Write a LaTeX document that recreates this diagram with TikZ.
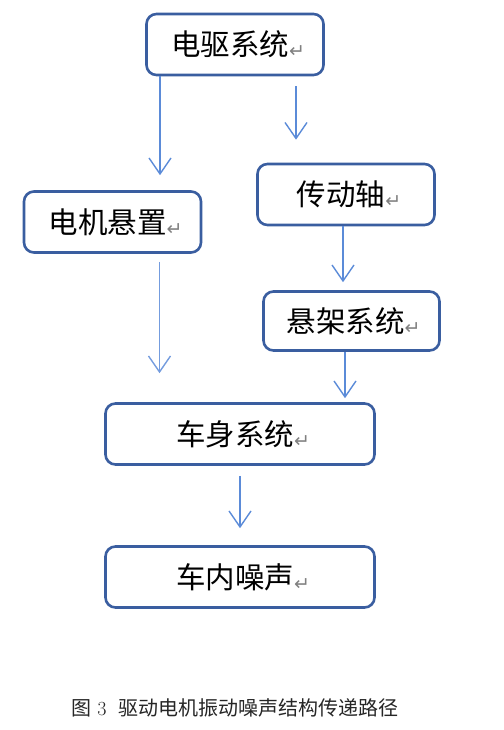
\documentclass[tikz,border=0pt]{standalone}
\usepackage{fontspec}
\usetikzlibrary{arrows.meta}
\newfontfamily\cjk{Noto Sans CJK SC}
\newfontfamily\symfont{DejaVu Sans}
\definecolor{boxblue}{HTML}{3A5EA0}
\definecolor{arrowblue}{HTML}{5B8BD8}
\newcommand{\pmark}{{\symfont\fontsize{19}{19}\selectfont\color{gray}\raisebox{-2pt}{↵}}}
\begin{document}
\begin{tikzpicture}[x=1pt,y=-1pt]
        \useasboundingbox (0,0) rectangle (503,730);
        \tikzstyle{block} = [rectangle, rounded corners=10pt, text=black, text centered, draw=boxblue, line width=2.6pt, font=\cjk\fontsize{29.5}{31}\selectfont, minimum width=177pt, minimum height=61pt, inner sep=0pt]
        \tikzstyle{line} = [-{Straight Barb[length=16pt,width=22pt,line width=1.4pt]},draw=arrowblue,line width=1.4pt]
        \node[block] (qudong) at (235,44.5) {\hspace{6pt}电驱系统\pmark};
        \node[block] (jixuan) at (112.5,222) {\hspace{6pt}电机悬置\pmark};
        \node[block] (chuandong) at (346,194.5) {\hspace{6pt}传动轴\pmark};
        \node[block, minimum width=176pt, minimum height=59pt] (xuanjia) at (351.5,321) {\hspace{4pt}悬架系统\pmark};
        \node[block, minimum width=269pt] (cheshen) at (240,434) {\hspace{6pt}车身系统\pmark};
        \node[block, minimum width=269pt] (zaosheng) at (240,577) {\hspace{6pt}车内噪声\pmark};
        \node[text=black!85, font=\fontsize{20}{22}\selectfont] (caption) at (235,708) {{\cjk 图}\ 3\ \ {\cjk 驱动电机振动噪声结构传递路径}};
        \draw[line, shorten >=15pt] ([xshift=-75pt]qudong.south) to ([xshift=-75pt]qudong.south |- jixuan.north);
        \draw[line, shorten <=10pt, shorten >=23pt] ([xshift=61pt]qudong.south) to ([xshift=61pt]qudong.south |- chuandong.north);
        \draw[line, shorten >=8pt] ([xshift=-3pt]chuandong.south) to ([xshift=-3pt]chuandong.south |- xuanjia.north);
        \draw[line, draw=arrowblue!85, shorten <=8pt, shorten >=29pt] ([xshift=47pt]jixuan.south) to ([xshift=47pt]jixuan.south |- cheshen.north);
        \draw[line, shorten >=4pt] ([xshift=-6.5pt]xuanjia.south) to ([xshift=-6.5pt]xuanjia.south |- cheshen.north);
        \draw[line, shorten <=10pt, shorten >=17pt] (cheshen.south) to (zaosheng.north);
        %\draw[line] (jixuan) to (cheshen);
    \end{tikzpicture}
\end{document}
